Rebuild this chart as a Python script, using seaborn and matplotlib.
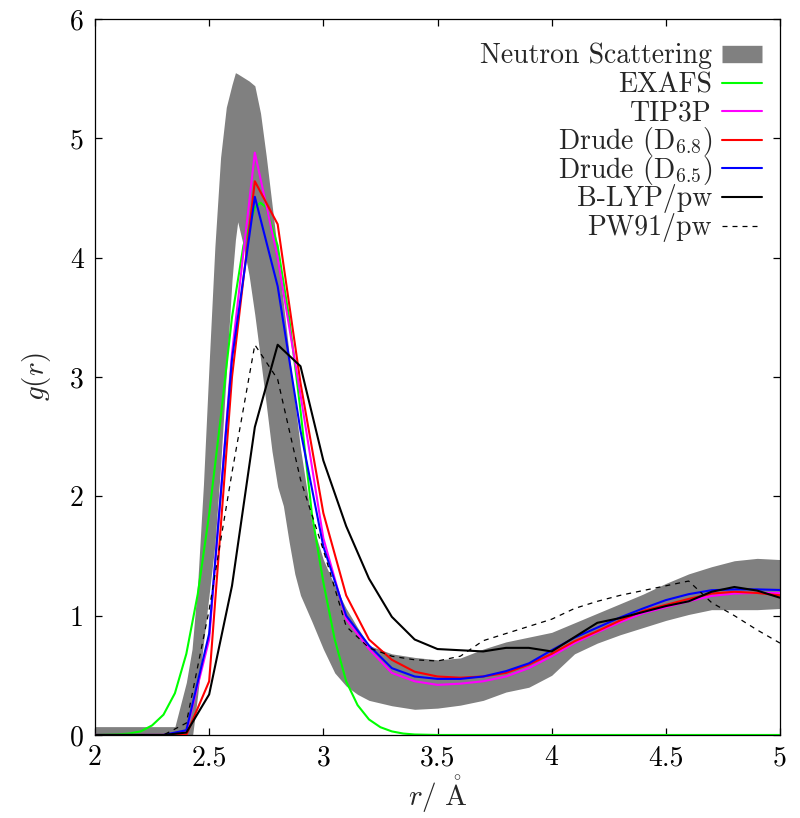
import matplotlib
matplotlib.use('Agg')
import numpy as np
import matplotlib.pyplot as plt
from matplotlib.lines import Line2D
from matplotlib.legend_handler import HandlerLine2D
import seaborn as sns

# ---- data ----
r = [2.0, 2.1, 2.2, 2.3, 2.4, 2.5, 2.6, 2.7, 2.8, 2.9, 3.0, 3.1, 3.2, 3.3, 3.4, 3.5,
     3.6, 3.7, 3.8, 3.9, 4.0, 4.1, 4.2, 4.3, 4.4, 4.5, 4.6, 4.7, 4.8, 4.9, 5.0]

tip3p = [0, 0, 0, 0, 0.03, 0.80, 3.20, 4.88, 4.00, 2.85, 1.65, 0.97, 0.72, 0.52, 0.45, 0.42,
         0.43, 0.45, 0.49, 0.56, 0.66, 0.77, 0.86, 0.945, 1.02, 1.07, 1.12, 1.165, 1.185, 1.19, 1.19]
drude68 = [0, 0, 0, 0, 0.0, 0.45, 3.00, 4.64, 4.28, 2.95, 1.86, 1.17, 0.80, 0.63, 0.53, 0.49,
           0.48, 0.49, 0.52, 0.59, 0.68, 0.785, 0.87, 0.96, 1.04, 1.09, 1.14, 1.185, 1.20, 1.19, 1.17]
drude65 = [0, 0, 0, 0, 0.04, 0.85, 3.15, 4.51, 3.76, 2.55, 1.58, 1.00, 0.75, 0.56, 0.49, 0.47,
           0.47, 0.49, 0.535, 0.60, 0.71, 0.815, 0.90, 0.985, 1.06, 1.13, 1.18, 1.213, 1.22, 1.22, 1.215]
blyp = [0, 0, 0, 0, 0.02, 0.34, 1.25, 2.58, 3.27, 3.09, 2.30, 1.75, 1.31, 0.99, 0.80, 0.72,
        0.71, 0.70, 0.73, 0.73, 0.70, 0.82, 0.94, 0.98, 1.03, 1.08, 1.12, 1.20, 1.24, 1.21, 1.15]
pw91 = [0, 0, 0, 0, 0.10, 1.05, 2.20, 3.27, 2.98, 2.14, 1.55, 0.91, 0.73, 0.66, 0.63, 0.62,
        0.66, 0.79, 0.85, 0.91, 0.97, 1.06, 1.12, 1.17, 1.21, 1.25, 1.29, 1.11, 1.00, 0.88, 0.77]

r_exafs = [2.0, 2.1, 2.15, 2.2, 2.25, 2.3, 2.35, 2.4, 2.45, 2.5, 2.55, 2.6, 2.65, 2.7, 2.725,
           2.75, 2.8, 2.85, 2.9, 2.95, 3.0, 3.05, 3.1, 3.15, 3.2, 3.25, 3.3, 3.35, 3.4, 3.5, 5.0]
exafs = [0.0, 0.005, 0.012, 0.03, 0.08, 0.17, 0.35, 0.68, 1.18, 1.85, 2.65, 3.50, 4.10, 4.42, 4.46,
         4.42, 4.10, 3.50, 2.72, 1.85, 1.28, 0.80, 0.45, 0.25, 0.13, 0.065, 0.03, 0.012, 0.004, 0.0, 0.0]

# neutron scattering band (upper / lower edge)
r_ns = [2.0, 2.3, 2.35, 2.4, 2.425, 2.45, 2.475, 2.5, 2.525, 2.55, 2.575, 2.6, 2.615, 2.625,
        2.65, 2.675, 2.7, 2.725, 2.75, 2.775, 2.8, 2.825, 2.85, 2.875, 2.9, 2.95, 3.0, 3.05,
        3.1, 3.15, 3.2, 3.3, 3.4, 3.5, 3.6, 3.7, 3.8, 3.9, 4.0, 4.1, 4.2, 4.3, 4.4, 4.5,
        4.6, 4.7, 4.8, 4.9, 5.0]
ns_upper = [0.07, 0.07, 0.07, 0.44, 0.72, 1.28, 2.10, 3.12, 4.09, 4.84, 5.26, 5.45, 5.55, 5.54,
            5.51, 5.48, 5.44, 5.21, 4.85, 4.45, 4.05, 3.62, 3.20, 2.80, 2.40, 1.78, 1.47, 1.25,
            1.06, 0.90, 0.75, 0.68, 0.65, 0.63, 0.645, 0.72, 0.78, 0.82, 0.86, 0.94, 1.02, 1.10,
            1.18, 1.27, 1.35, 1.41, 1.46, 1.48, 1.47]
ns_lower = [-0.07, -0.07, -0.07, -0.06, -0.04, 0.34, 0.77, 1.18, 1.59, 2.25, 3.03, 3.81, 4.15, 4.30,
            4.10, 3.85, 3.52, 3.15, 2.77, 2.38, 2.08, 1.92, 1.62, 1.35, 1.17, 0.95, 0.72, 0.52,
            0.41, 0.34, 0.29, 0.245, 0.215, 0.225, 0.25, 0.29, 0.36, 0.40, 0.50, 0.68, 0.77, 0.84,
            0.90, 0.96, 1.01, 1.05, 1.05, 1.05, 1.06]

sns.set_style('ticks')
plt.rcParams['font.family'] = ['cmr10']
plt.rcParams['mathtext.fontset'] = 'cm'
plt.rcParams['axes.formatter.use_mathtext'] = True
plt.rcParams['axes.unicode_minus'] = False

fig = plt.figure(figsize=(8, 8.18), dpi=100)
ax = fig.add_axes([0.11875, 0.1015, 0.85625, 0.8753])

grey = '#808080'
ax.fill_between(r_ns, ns_lower, ns_upper, color=grey, lw=0, zorder=1)

sns.lineplot(x=r_exafs, y=exafs, ax=ax, color='#00ff00', lw=1.5, zorder=2)
sns.lineplot(x=r, y=tip3p, ax=ax, color='#ff00ff', lw=1.5, zorder=3)
sns.lineplot(x=r, y=drude68, ax=ax, color='#ff0000', lw=1.5, zorder=4)
sns.lineplot(x=r, y=drude65, ax=ax, color='#0000ff', lw=1.5, zorder=5)
sns.lineplot(x=r, y=blyp, ax=ax, color='black', lw=1.5, zorder=6)
sns.lineplot(x=r, y=pw91, ax=ax, color='black', lw=0.9, zorder=7)
ax.lines[-1].set_dashes((4, 4))

ax.set_xlim(2, 5)
ax.set_ylim(0, 6)
ax.set_xticks([2, 2.5, 3, 3.5, 4, 4.5, 5])
ax.set_xticklabels(['2', '2.5', '3', '3.5', '4', '4.5', '5'])
ax.set_yticks([0, 1, 2, 3, 4, 5, 6])
ax.set_yticklabels(['0', '1', '2', '3', '4', '5', '6'])
ax.tick_params(direction='in', top=True, right=True, length=5, width=0.9,
               labelsize=20, colors='black')
ax.tick_params(axis='x', pad=7)
ax.tick_params(axis='y', pad=8)
for s in ax.spines.values():
    s.set_linewidth(0.9)
    s.set_color('black')

ax.set_xlabel(r'$r/\ \mathring{\mathrm{A}}$', fontsize=21, labelpad=2)
ax.set_ylabel(r'$g(r)$', fontsize=21, labelpad=12)


# legend rows all get the same (tall) handle box; keep the handle line low,
# at about mid cap height of the label
class LowLine(HandlerLine2D):
    def create_artists(self, legend, orig_handle, xdescent, ydescent,
                       width, height, fontsize, trans):
        arts = super().create_artists(legend, orig_handle, xdescent, ydescent,
                                      width, height, fontsize, trans)
        for a in arts:
            if isinstance(a, Line2D):
                a.set_ydata(np.full_like(np.asarray(a.get_xdata(), float), 0.34 * fontsize))
        return arts


handles = [
    Line2D([], [], color=grey, lw=12.5, solid_capstyle='butt'),
    Line2D([], [], color='#00ff00', lw=1.5),
    Line2D([], [], color='#ff00ff', lw=1.5),
    Line2D([], [], color='#ff0000', lw=1.5),
    Line2D([], [], color='#0000ff', lw=1.5),
    Line2D([], [], color='black', lw=1.5),
    Line2D([], [], color='black', lw=0.9, dashes=(4, 4)),
]
labels = ['Neutron Scattering', 'EXAFS', 'TIP3P', r'Drude (D$_{6.8}$)',
          r'Drude (D$_{6.5}$)', 'B-LYP/pw', 'PW91/pw']
ax.legend(handles, labels, loc='upper right', bbox_to_anchor=(1.0, 1.0078),
          frameon=False, markerfirst=False, handler_map={Line2D: LowLine()},
          fontsize=20, handlelength=1.45, handletextpad=0.35, handleheight=2.2,
          labelspacing=-0.645, borderaxespad=0.5, borderpad=0.15)

fig.savefig('out.png', dpi=100)
